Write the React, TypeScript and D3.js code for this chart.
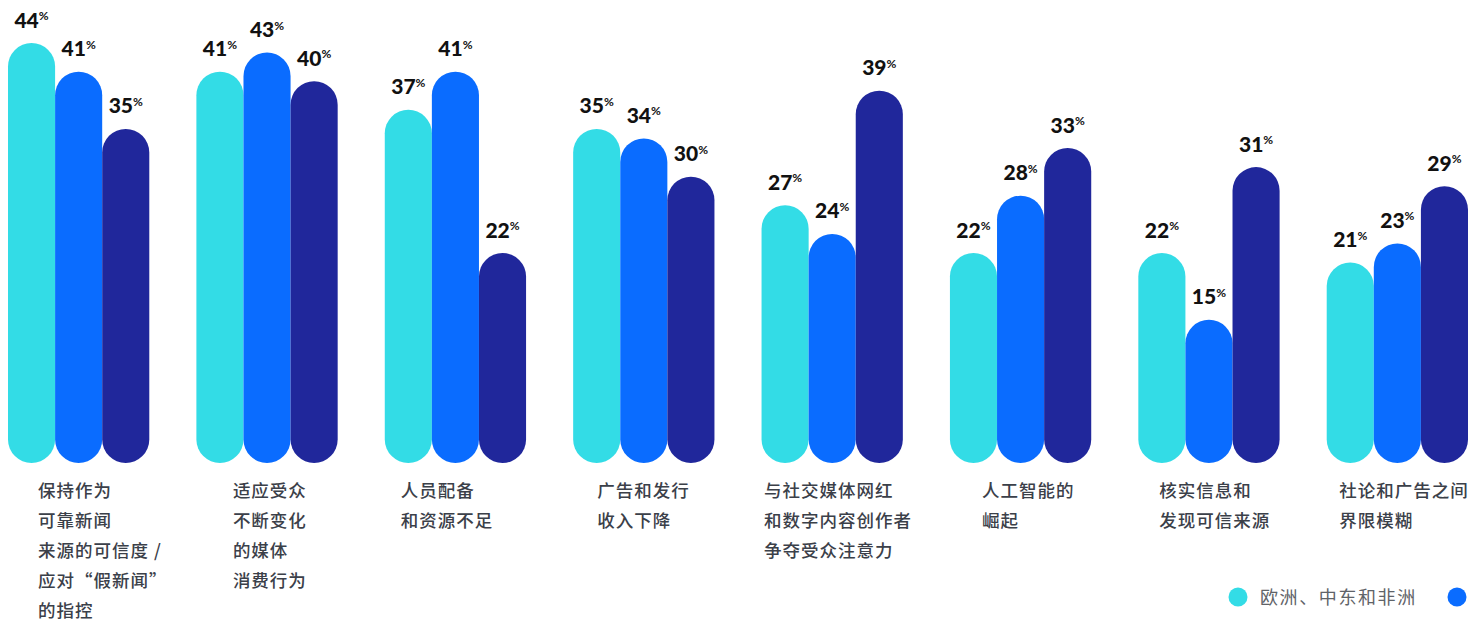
import React from "react";
import * as d3 from "d3";

const categories: string[][] = [
  ["保持作为", "可靠新闻", "来源的可信度 /", "应对“假新闻”", "的指控"],
  ["适应受众", "不断变化", "的媒体", "消费行为"],
  ["人员配备", "和资源不足"],
  ["广告和发行", "收入下降"],
  ["与社交媒体网红", "和数字内容创作者", "争夺受众注意力"],
  ["人工智能的", "崛起"],
  ["核实信息和", "发现可信来源"],
  ["社论和广告之间", "界限模糊"],
];

const seriesNames = ["欧洲、中东和非洲", "亚太地区", "美洲"];
const emea = [44, 41, 37, 35, 27, 22, 22, 21];
const apac = [41, 43, 41, 34, 24, 28, 15, 23];
const americas = [35, 40, 22, 30, 39, 33, 31, 29];

// layout-only: left offset of each category label relative to its group start
const labelOffsets = [30, 36.5, 16, 24, 2.5, 32, 21, 12.5];

const W = 1469;
const H = 619;
const COLORS = ["#33DCE6", "#0A6CFF", "#20279B"];

export default function App() {
  const series = [emea, apac, americas];
  const x0 = d3
    .scaleBand<number>()
    .domain(d3.range(categories.length))
    .range([8, 1468])
    .paddingInner(0.25)
    .paddingOuter(0);
  const x1 = d3
    .scaleBand<number>()
    .domain([0, 1, 2])
    .range([0, x0.bandwidth()])
    .padding(0);
  const y = d3.scaleLinear().domain([0, 44]).range([463, 43]);
  const bw = x1.bandwidth();

  return (
    <svg
      width={W}
      height={H}
      style={{ position: "absolute", left: 0, top: 0, background: "#fff" }}
    >
      {categories.map((lines, i) => {
        const gx = x0(i)!;
        return (
          <g key={i}>
            {series.map((s, j) => {
              const v = s[i];
              const bx = gx + x1(j)!;
              const top = y(v);
              return (
                <g key={j}>
                  <rect
                    x={bx}
                    y={top}
                    width={bw}
                    height={y(0) - top}
                    rx={bw / 2}
                    ry={bw / 2}
                    fill={COLORS[j]}
                  />
                  <text
                    x={bx + bw / 2}
                    y={top - 15.5}
                    textAnchor="middle"
                    fontFamily="Lato, 'Open Sans', sans-serif"
                    fontWeight={900}
                    fontSize={21}
                    fill="#111"
                  >
                    {v}
                    <tspan fontSize={12} fontWeight={700} dy={-7.5}>
                      %
                    </tspan>
                  </text>
                </g>
              );
            })}
            <text
              fontFamily="'Noto Sans CJK SC', sans-serif"
              fontWeight={500}
              fontSize={17.5}
              letterSpacing={1}
              fill="#3b4049"
            >
              {lines.map((ln, k) => (
                <tspan key={k} x={gx + labelOffsets[i]} y={497 + k * 30}>
                  {ln}
                </tspan>
              ))}
            </text>
          </g>
        );
      })}
      <g>
        {seriesNames.map((name, j) => {
          const lx = 1238 + j * 219;
          return (
            <g key={j}>
              <circle cx={lx} cy={597} r={9.5} fill={COLORS[j]} />
              <text
                x={lx + 22}
                y={603.5}
                fontFamily="'Noto Sans CJK SC', sans-serif"
                fontWeight={400}
                fontSize={18}
                letterSpacing={1.6}
                fill="#5f6368"
              >
                {name}
              </text>
            </g>
          );
        })}
      </g>
    </svg>
  );
}
